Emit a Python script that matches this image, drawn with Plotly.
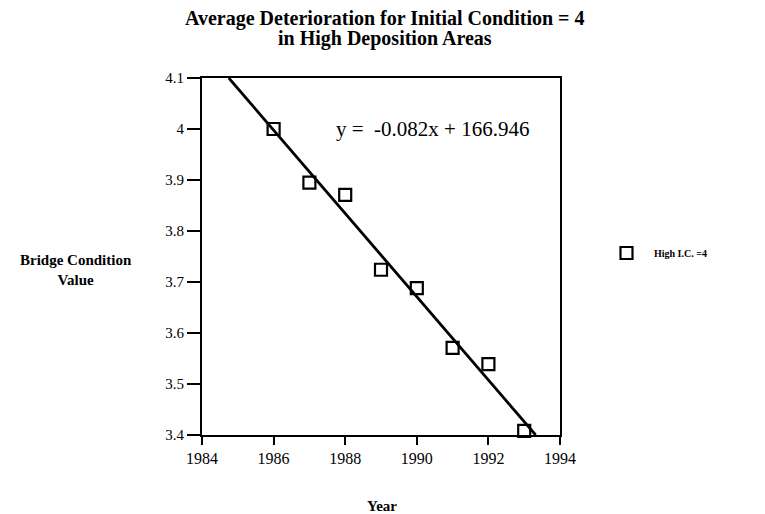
import numpy as np
import plotly.graph_objects as go

years = [1986, 1987, 1988, 1989, 1990, 1991, 1992, 1993]
condition = [4.00, 3.895, 3.871, 3.724, 3.688, 3.571, 3.539, 3.408]
series_name = "High I.C. =4"
title_lines = ["Average Deterioration for Initial Condition = 4", "in High Deposition Areas"]
equation_text = "y =  -0.082x + 166.946"
x_ticks = [1984, 1986, 1988, 1990, 1992, 1994]
y_range = [3.4, 4.1]
x_range = [1984, 1994]

m, b = np.polyfit(years, condition, 1)
x_top = (y_range[1] - b) / m
x_bot = (y_range[0] - b) / m

FONT = "Liberation Serif"
W, H = 765, 514
OFF = 8  # page body margin
# target plot area in screen pixels
L_S, R_S, T_S, B_S = 202, 560, 78, 435
ml, mt = L_S - OFF, T_S - OFF
mr, mb = W - (R_S - OFF), H - (B_S - OFF)
wp, hp = W - ml - mr, H - mt - mb


def px(sx, sy):
    """screen pixel -> paper coordinates"""
    fx, fy = sx - OFF, sy - OFF
    return (fx - ml) / wp, 1 - (fy - mt) / hp


fig = go.Figure()
fig.add_trace(go.Scatter(
    x=[x_top, x_bot], y=[m * x_top + b, m * x_bot + b], mode="lines",
    line=dict(color="black", width=2.8), showlegend=False, hoverinfo="skip",
    cliponaxis=False,
))
fig.add_trace(go.Scatter(
    x=years, y=condition, mode="markers", name="<b>" + series_name + "</b>",
    marker=dict(symbol="square-open", size=12, color="black", line=dict(width=2.2, color="black")),
    cliponaxis=False,
))

anns = []


def add_text(text, sx, sy, size):
    ax, ay = px(sx, sy)
    anns.append(dict(text=text, x=ax, y=ay, xref="paper", yref="paper",
                     xanchor="center", yanchor="middle",
                     showarrow=False, font=dict(family=FONT, size=size, color="black")))


add_text("<b>" + title_lines[0] + "</b>", 385, 19, 20)
add_text("<b>" + title_lines[1] + "</b>", 385, 39, 20)
add_text("<b>Bridge Condition<br>Value</b>", 76, 270, 15)
add_text("<b>Year</b>", 382, 506, 15)
add_text(equation_text, 432, 129, 21)

lx, ly = px(599, 253)

fig.update_layout(
    width=W, height=H,
    margin=dict(l=ml, r=mr, t=mt, b=mb),
    paper_bgcolor="white", plot_bgcolor="white",
    font=dict(family=FONT, color="black", size=14),
    xaxis=dict(range=x_range, tickvals=x_ticks, ticks="outside", ticklen=8, tickwidth=2,
               tickcolor="black", showline=True, linewidth=2, linecolor="black", mirror=True,
               showgrid=False, zeroline=False, tickfont=dict(family=FONT, size=16)),
    yaxis=dict(range=y_range, dtick=0.1, tick0=3.4, ticks="outside", ticklen=13, tickwidth=2,
               tickcolor="black", showline=True, linewidth=2, linecolor="black", mirror=True,
               showgrid=False, zeroline=False, tickfont=dict(family=FONT, size=15)),
    legend=dict(x=lx, y=ly, xanchor="left", yanchor="middle", itemwidth=45,
                font=dict(family=FONT, size=10, color="black"), bgcolor="rgba(0,0,0,0)"),
    annotations=anns,
)
fig.write_html("out.html")
